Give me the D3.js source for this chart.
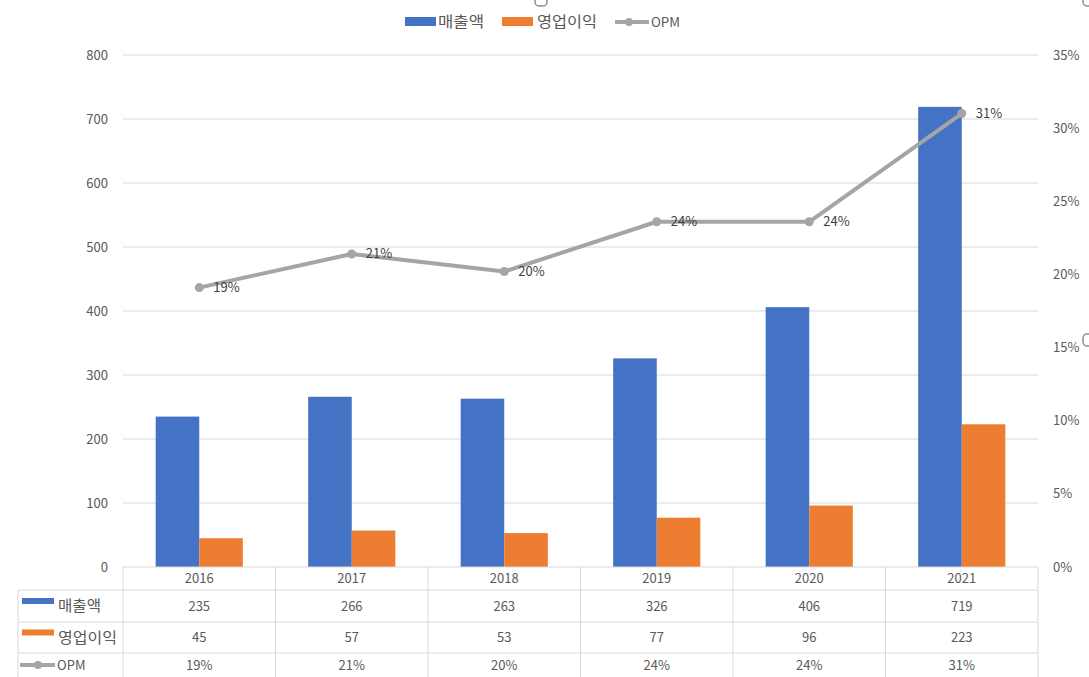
<!DOCTYPE html>
<html><head><meta charset="utf-8">
<script src="https://cdn.jsdelivr.net/npm/d3@7"></script>
<style>
html,body{margin:0;padding:0;background:#fff;}
text{font-family:"Noto Sans CJK KR","Noto Sans",sans-serif;fill:#595959;}
</style></head>
<body>
<svg id="c" width="1089" height="677"></svg>
<script>
const years = ["2016","2017","2018","2019","2020","2021"];
const sales = [235,266,263,326,406,719];
const profit = [45,57,53,77,96,223];
const opm = [19.1,21.4,20.2,23.6,23.6,31.0];
const opmLabels = ["19%","21%","20%","24%","24%","31%"];
const leftTicks = [0,100,200,300,400,500,600,700,800];
const rightTicks = [0,5,10,15,20,25,30,35];
const seriesNames = ["매출액","영업이익","OPM"];
const colors = ["#4472C4","#ED7D31","#A5A5A5"];

const svg = d3.select("#c");
const L = 123, R = 1038, T = 55, B = 567;
const x = d3.scaleBand().domain(years).range([L,R]).padding(0);
const xs = d3.scaleBand().domain([0,1]).range([0,x.bandwidth()]).paddingInner(0).paddingOuter(0.75);
const y = d3.scaleLinear().domain([0,800]).range([B,T]);
const y2 = d3.scaleLinear().domain([0,35]).range([B,T]);
const grid = "#D9D9D9";

// gridlines
svg.append("g").selectAll("line").data(leftTicks.slice(1)).join("line")
  .attr("x1",L).attr("x2",R).attr("y1",d=>y(d)).attr("y2",d=>y(d))
  .attr("stroke",grid).attr("stroke-width",1);

// left axis labels
svg.append("g").selectAll("text").data(leftTicks).join("text")
  .attr("x",108).attr("y",d=>y(d)).attr("dy","0.35em").attr("text-anchor","end")
  .attr("font-size",13).text(d=>d);

// right axis labels
svg.append("g").selectAll("text").data(rightTicks).join("text")
  .attr("x",1053).attr("y",d=>y2(d)).attr("dy","0.35em").attr("text-anchor","start")
  .attr("font-size",13).text(d=>d+"%");

// bars
const bars = svg.append("g");
bars.selectAll("rect.s").data(sales).join("rect").attr("class","s")
  .attr("x",(d,i)=>x(years[i])+xs(0)).attr("width",xs.bandwidth())
  .attr("y",d=>y(d)).attr("height",d=>B-y(d)).attr("fill",colors[0]);
bars.selectAll("rect.p").data(profit).join("rect").attr("class","p")
  .attr("x",(d,i)=>x(years[i])+xs(1)).attr("width",xs.bandwidth())
  .attr("y",d=>y(d)).attr("height",d=>B-y(d)).attr("fill",colors[1]);

// line
const cx = (i)=>x(years[i])+x.bandwidth()/2;
const line = d3.line().x((d,i)=>cx(i)).y(d=>y2(d));
svg.append("path").datum(opm).attr("d",line).attr("fill","none")
  .attr("stroke",colors[2]).attr("stroke-width",4).attr("stroke-linejoin","round").attr("stroke-linecap","round");
svg.append("g").selectAll("circle").data(opm).join("circle")
  .attr("cx",(d,i)=>cx(i)).attr("cy",d=>y2(d)).attr("r",4.5).attr("fill",colors[2]);
svg.append("g").selectAll("text").data(opm).join("text")
  .attr("x",(d,i)=>cx(i)+14).attr("y",d=>y2(d)).attr("dy","0.35em")
  .attr("font-size",13).style("fill","#404040").text((d,i)=>opmLabels[i]);

// data table
const rowsY = [567,590,622,653,677];
const tg = svg.append("g");
tg.append("line").attr("x1",L).attr("x2",R).attr("y1",B).attr("y2",B).attr("stroke",grid);
[590,622,653].forEach(v=>tg.append("line").attr("x1",18).attr("x2",R).attr("y1",v).attr("y2",v).attr("stroke",grid));
const bounds = years.map(d=>x(d)).concat([R]);
tg.selectAll("line.v").data(bounds).join("line").attr("class","v")
  .attr("x1",d=>d).attr("x2",d=>d).attr("y1",B).attr("y2",677).attr("stroke",grid);
tg.append("line").attr("x1",18).attr("x2",18).attr("y1",590).attr("y2",677).attr("stroke",grid);

const rowMid = (r)=>(rowsY[r]+rowsY[r+1])/2;
tg.selectAll("text.yr").data(years).join("text").attr("class","yr")
  .attr("x",d=>x(d)+x.bandwidth()/2).attr("y",rowMid(0)).attr("dy","0.35em")
  .attr("text-anchor","middle").attr("font-size",13).text(d=>d);
const rowsData = [sales.map(String), profit.map(String), opmLabels];
rowsData.forEach((arr,r)=>{
  tg.selectAll("text.r"+r).data(arr).join("text").attr("class","r"+r)
    .attr("x",(d,i)=>x(years[i])+x.bandwidth()/2).attr("y",rowMid(r+1)).attr("dy","0.35em")
    .attr("text-anchor","middle").attr("font-size",13).text(d=>d);
});
const hdrW = [43,59];
[0,1].forEach(r=>{
  const m = rowMid(r+1);
  tg.append("rect").attr("x",22).attr("y",m-8).attr("width",32).attr("height",6).attr("fill",colors[r]);
  tg.append("text").attr("x",58).attr("y",m).attr("dy","0.35em").attr("font-size",15)
    .attr("textLength",hdrW[r]).attr("lengthAdjust","spacingAndGlyphs").text(seriesNames[r]);
});
{
  const m = rowMid(3);
  tg.append("line").attr("x1",20).attr("x2",55).attr("y1",m).attr("y2",m).attr("stroke",colors[2]).attr("stroke-width",4);
  tg.append("circle").attr("cx",38).attr("cy",m).attr("r",4).attr("fill",colors[2]);
  tg.append("text").attr("x",57).attr("y",m).attr("dy","0.35em").attr("font-size",13).text(seriesNames[2]);
}

// legend
const lg = svg.append("g");
lg.append("rect").attr("x",405).attr("y",17).attr("width",31).attr("height",9).attr("fill",colors[0]);
lg.append("text").attr("x",438).attr("y",22).attr("dy","0.35em").attr("font-size",15)
  .attr("textLength",46).attr("lengthAdjust","spacingAndGlyphs").text(seriesNames[0]);
lg.append("rect").attr("x",502).attr("y",17).attr("width",31).attr("height",9).attr("fill",colors[1]);
lg.append("text").attr("x",537).attr("y",22).attr("dy","0.35em").attr("font-size",15)
  .attr("textLength",60).attr("lengthAdjust","spacingAndGlyphs").text(seriesNames[1]);
lg.append("line").attr("x1",615).attr("x2",649).attr("y1",22).attr("y2",22).attr("stroke",colors[2]).attr("stroke-width",4);
lg.append("circle").attr("cx",629).attr("cy",22).attr("r",4).attr("fill",colors[2]);
lg.append("text").attr("x",651).attr("y",22).attr("dy","0.35em").attr("font-size",13)
  .attr("textLength",29).attr("lengthAdjust","spacingAndGlyphs").text(seriesNames[2]);

// selection handles (partial)
const hg = svg.append("g").attr("fill","#fff").attr("stroke","#8c8c8c").attr("stroke-width",1.5);
hg.append("rect").attr("x",535).attr("y",-6).attr("width",12).attr("height",12).attr("rx",4);
hg.append("rect").attr("x",1083).attr("y",-6).attr("width",12).attr("height",12).attr("rx",4);
hg.append("rect").attr("x",1083).attr("y",334).attr("width",12).attr("height",12).attr("rx",4);
</script>
</body></html>
